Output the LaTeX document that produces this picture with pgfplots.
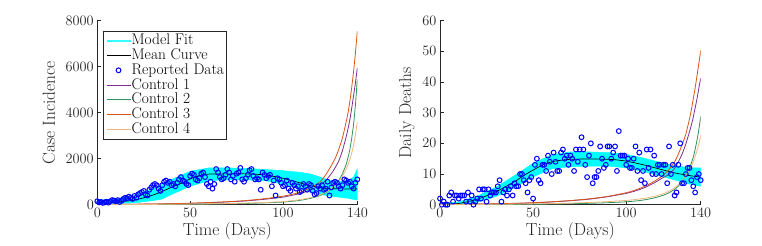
\documentclass[border=0pt]{standalone}
\usepackage{fontspec}
\usepackage{pgfplots}
\pgfplotsset{compat=1.18}
\definecolor{c1}{rgb}{0.49,0.18,0.56}
\definecolor{c2}{rgb}{0.18,0.58,0.36}
\definecolor{c3}{rgb}{0.85,0.33,0.10}
\definecolor{c4}{rgb}{0.93,0.72,0.50}
\definecolor{axgray}{rgb}{0.15,0.15,0.15}
\definecolor{fitcyan}{rgb}{0,1,1}

\pgfplotstableread{
x y
0 150
1 100
2 120
3 80
4 100
5 130
6 90
7 150
8 200
9 180
10 150
11 200
12 120
13 170
14 250
15 300
16 280
17 350
18 300
19 250
20 380
21 300
22 450
23 500
24 550
25 600
26 450
27 400
28 650
29 750
30 850
31 900
32 850
33 700
34 600
35 850
36 1000
37 1050
38 950
39 1000
40 850
41 900
42 800
43 950
44 1100
45 1200
46 1050
47 1000
48 900
49 850
50 1250
51 1350
52 1300
53 1100
54 1050
55 1150
56 1350
57 1400
58 1200
59 900
60 800
61 1000
62 700
63 900
64 1550
65 1400
66 1200
67 1100
68 1150
69 1300
70 1550
71 1400
72 1100
73 1250
74 1000
75 1350
76 1400
77 1600
78 1100
79 1000
80 1150
81 1300
82 1500
83 1550
84 1250
85 1100
86 1150
87 1100
88 650
89 1400
90 1300
91 1150
92 1250
93 1300
94 800
95 1050
96 400
97 1150
98 1100
99 950
100 800
101 850
102 1050
103 700
104 600
105 950
106 850
107 700
108 800
109 550
110 600
111 900
112 800
113 650
114 900
115 850
116 600
117 450
118 500
119 800
120 700
121 850
122 650
123 700
124 1000
125 400
126 750
127 950
128 1000
129 950
130 800
131 700
132 850
133 1100
134 1050
135 950
136 1000
137 800
138 700
139 950
140 1100
}\casedata

\pgfplotstableread{
x y
0 2
1 0
2 1
3 0
4 0
5 3
6 4
7 1
8 3
9 3
10 2
11 3
12 3
13 3
14 1
15 4
16 1
17 3
18 0
19 1
20 2
21 5
22 2
23 5
24 5
25 1
26 5
27 3
28 4
29 4
30 4
31 6
32 8
33 1
34 4
35 5
36 3
37 5
38 6
39 3
40 7
41 6
42 6
43 10
44 10
45 8
46 7
47 4
48 8
49 9
50 2
51 13
52 15
53 8
54 7
55 13
56 13
57 11
58 16
59 14
60 10
61 17
62 14
63 11
64 11
65 17
66 18
67 15
68 16
69 13
70 16
71 15
72 11
73 18
74 14
75 18
76 22
77 18
78 13
79 9
80 16
81 20
82 7
83 9
84 9
85 11
86 19
87 15
88 12
89 13
90 19
91 19
92 15
93 17
94 19
95 11
96 24
97 16
98 16
99 16
100 13
101 15
102 12
103 12
104 15
105 19
106 11
107 17
108 8
109 11
110 7
111 18
112 12
113 18
114 10
115 16
116 10
117 13
118 13
119 10
120 13
121 13
122 7
123 19
124 10
125 13
126 3
127 4
128 13
129 20
130 7
131 7
132 10
133 12
134 12
135 8
136 6
137 4
138 9
139 10
140 8
}\deathdata

\pgfplotsset{
  myaxis/.style={
    scale only axis, height=184bp,
    xmin=0, xmax=140, xtick={0,50,100,140},
    axis x line*=bottom, axis y line*=left,
    axis line style={axgray, line width=0.5bp},
    tick style={axgray, line width=0.5bp},
    major tick length=3.5bp,
    tick label style={font=\fontsize{14}{14}\selectfont, text=axgray},
    label style={font=\fontsize{17.5}{18}\selectfont, text=axgray},
    xlabel={Time (Days)},
    xlabel style={at={(axis description cs:0.5,-0.143)}, anchor=center},
  },
  ctrl/.style={line width=0.8bp, smooth, tension=0.3},
  lline/.style={legend image code/.code={\draw[##1] (0bp,0bp) -- (24bp,0bp);}},
  lband/.style={legend image code/.code={\draw[fitcyan!80, line width=2bp] (0bp,0bp) -- (24bp,0bp);}},
  lmark/.style={legend image code/.code={\draw[##1] plot coordinates {(12bp,0bp)};}},
}

\begin{document}
\begin{tikzpicture}
\path[use as bounding box] (0,0) rectangle (762bp,246bp);

\begin{axis}[myaxis, at={(97.3bp,41.3bp)}, anchor=south west, width=260bp,
  ymin=0, ymax=8000, ytick={0,2000,4000,6000,8000}, scaled y ticks=false,
  yticklabel style={/pgf/number format/1000 sep={}},
  ylabel={Case Incidence},
  ylabel style={at={(axis description cs:-0.186,0.5)}, anchor=center},
  legend style={at={(0.021,0.945)}, anchor=north west,
    font=\fontsize{15.5}{15.5}\selectfont, draw=axgray, line width=0.5bp,
    inner sep=2.5bp, row sep=0bp,
    nodes={text height=11.3bp, text depth=3.2bp, inner sep=0.1bp},
    cells={anchor=west}},
  legend cell align=left]
\addplot[draw=fitcyan, fill=fitcyan, line width=0.5bp, lband]
  coordinates {(0,200) (10,250) (20,420) (30,700) (35,880) (40,1100) (50,1450) (60,1600) (70,1600) (80,1580) (90,1530) (100,1480) (110,1400) (115,1330) (120,1200) (125,1050) (130,1000) (135,1050) (138,1200) (140,1550)
   (140,200) (138,230) (135,280) (130,330) (125,380) (120,450) (115,540) (110,650) (100,900) (90,1050) (80,1080) (70,1080) (60,1050) (50,800) (40,450) (35,250) (30,180) (20,80) (10,50) (0,30)} --cycle;
\addlegendentry{Model Fit}
\addplot[black, line width=0.7bp, smooth, lline] coordinates {(0,100) (5,110) (10,120) (15,150) (20,200) (25,300) (30,420) (35,580) (40,760) (45,920) (50,1120) (55,1270) (60,1330) (70,1340) (80,1340) (90,1300) (95,1230) (100,1150) (105,1040) (110,930) (115,820) (120,740) (125,700) (130,690) (135,685) (140,680)};
\addlegendentry{Mean Curve}
\addplot[only marks, mark=o, mark size=2.4bp, blue, line width=1bp, lmark] table {\casedata};
\addlegendentry{Reported Data}
\addplot[c1, ctrl, lline] coordinates {(0,10) (10,14) (20,20) (30,28) (40,40) (50,58) (60,85) (70,120) (80,165) (90,235) (100,330) (105,410) (110,500) (115,650) (120,850) (123,1050) (126,1350) (128,1600) (130,1900) (132,2350) (134,2950) (135,3300) (136,3700) (137,4200) (138,4750) (139,5300) (140,5950)};
\addlegendentry{Control 1}
\addplot[c2, ctrl, lline] coordinates {(0,3) (10,5) (20,7) (30,10) (40,14) (50,20) (60,28) (70,40) (80,55) (90,80) (100,115) (105,150) (110,200) (115,280) (120,400) (123,520) (126,700) (128,850) (130,1050) (132,1350) (134,1750) (135,2050) (136,2400) (137,2900) (138,3500) (139,4350) (140,5450)};
\addlegendentry{Control 2}
\addplot[c3, ctrl, lline] coordinates {(0,10) (10,15) (20,22) (30,32) (40,45) (50,65) (60,95) (70,130) (80,180) (90,260) (100,370) (105,450) (110,560) (115,740) (120,1000) (123,1300) (126,1700) (128,2000) (130,2400) (132,2900) (134,3600) (135,4000) (136,4500) (137,5100) (138,5800) (139,6600) (140,7550)};
\addlegendentry{Control 3}
\addplot[c4, ctrl, lline] coordinates {(0,5) (10,7) (20,10) (30,14) (40,19) (50,26) (60,36) (70,50) (80,68) (90,95) (100,135) (105,175) (110,230) (115,310) (120,430) (123,540) (126,700) (128,840) (130,1000) (132,1250) (134,1550) (135,1750) (136,1980) (137,2250) (138,2600) (139,3050) (140,3600)};
\addlegendentry{Control 4}
\end{axis}

\begin{axis}[myaxis, at={(440bp,41.3bp)}, anchor=south west, width=260.7bp,
  ymin=0, ymax=60, ytick={0,10,20,30,40,50,60},
  ylabel={Daily Deaths},
  ylabel style={at={(axis description cs:-0.127,0.5)}, anchor=center}]
\addplot[draw=fitcyan, fill=fitcyan, line width=0.5bp]
  coordinates {(0,0.4) (10,0.9) (20,2.8) (30,5.7) (40,9.5) (50,13.5) (60,16.3) (70,17.2) (80,17.2) (90,17.0) (100,16.4) (110,15.1) (120,13.5) (130,12.4) (135,12.0) (140,12.0)
   (140,6.0) (135,6.6) (130,7.4) (120,9.1) (110,10.7) (100,12.0) (90,12.6) (80,12.6) (70,12.4) (60,11.7) (50,9.1) (40,5.5) (30,2.7) (20,0.8) (10,0) (0,0)} --cycle;
\addplot[black, line width=0.7bp, smooth] coordinates {(0,0.1) (5,0.2) (10,0.4) (15,1.0) (20,1.8) (25,2.9) (30,4.2) (35,5.8) (40,7.5) (45,9.5) (50,11.3) (55,12.9) (60,14.0) (65,14.5) (70,14.8) (80,14.9) (90,14.8) (95,14.6) (100,14.2) (105,13.6) (110,12.9) (115,12.1) (120,11.3) (125,10.5) (130,9.9) (135,9.4) (140,9.0)};
\addplot[only marks, mark=o, mark size=2.4bp, blue, line width=1bp] table {\deathdata};
\addplot[c1, ctrl] coordinates {(0,0.1) (10,0.14) (20,0.2) (30,0.28) (40,0.4) (50,0.6) (60,0.9) (70,1.3) (80,1.8) (90,2.6) (100,3.7) (105,4.5) (110,5.6) (115,7.1) (120,8.9) (123,9.9) (126,11.8) (128,14.0) (130,16.5) (132,19.8) (134,23.8) (135,26) (136,28.5) (137,31.5) (138,34.5) (139,38) (140,41.3)};
\addplot[c2, ctrl] coordinates {(0,0.02) (10,0.03) (20,0.05) (30,0.07) (40,0.1) (50,0.15) (60,0.22) (70,0.32) (80,0.45) (90,0.65) (100,0.95) (105,1.2) (110,1.6) (115,2.2) (120,3.1) (123,3.9) (126,5.0) (128,6.1) (130,7.6) (132,9.5) (134,12) (135,13.6) (136,15.5) (137,18) (138,21) (139,24.5) (140,28.8)};
\addplot[c3, ctrl] coordinates {(0,0.1) (10,0.15) (20,0.2) (30,0.3) (40,0.45) (50,0.65) (60,0.95) (70,1.35) (80,1.9) (90,2.7) (100,3.9) (105,4.8) (110,6) (115,7.6) (120,9.6) (123,11.5) (126,14) (128,16.5) (130,19.5) (132,23) (134,28) (135,31) (136,34.5) (137,38) (138,42) (139,46) (140,50.3)};
\addplot[c4, ctrl] coordinates {(0,0.05) (10,0.07) (20,0.1) (30,0.14) (40,0.2) (50,0.28) (60,0.38) (70,0.52) (80,0.72) (90,1.0) (100,1.4) (105,1.7) (110,2.1) (115,2.7) (120,3.6) (123,4.4) (126,5.5) (128,6.5) (130,7.8) (132,9.4) (134,11.5) (135,12.7) (136,14.1) (137,15.7) (138,17.6) (139,19.8) (140,22.6)};
\end{axis}
\end{tikzpicture}
\end{document}
